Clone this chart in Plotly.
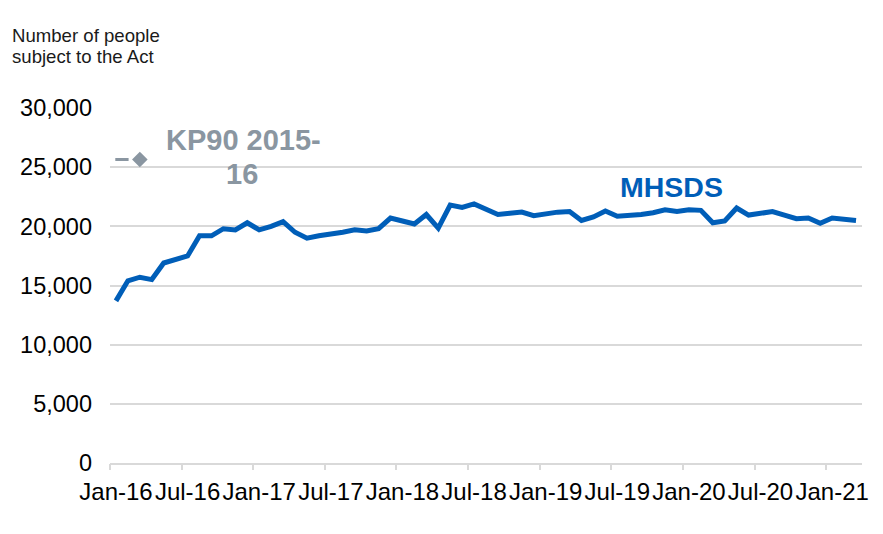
import plotly.graph_objects as go

# ---- data ----
months = ["Jan", "Feb", "Mar", "Apr", "May", "Jun", "Jul", "Aug", "Sep", "Oct", "Nov", "Dec"]
categories = [f"{m}-{y}" for y in range(16, 22) for m in months][:63]  # Jan-16 .. Mar-21

mhsds = [13700, 15400, 15700, 15500, 16900, 17200, 17500, 19200, 19200, 19800, 19700, 20300,
         19700, 20000, 20400, 19500, 19000, 19200, 19300, 19500, 19700, 19600, 19800, 20700,
         20450, 20200, 21000, 19850, 21800, 21600, 21900, 21500, 21000, 21100, 21200, 20900,
         21100, 21200, 21250, 20500, 20800, 21300, 20850, 20900, 21000, 21150, 21400, 21250,
         21400, 21350, 20300, 20450, 21550, 20950, 21100, 21250, 20950, 20650, 20700, 20250,
         20700, 20550, 20500]

kp90_category = "Mar-16"
kp90_value = [25650]

tick_labels = ["Jan-16", "Jul-16", "Jan-17", "Jul-17", "Jan-18", "Jul-18",
               "Jan-19", "Jul-19", "Jan-20", "Jul-20", "Jan-21"]
y_ticks = [0, 5000, 10000, 15000, 20000, 25000, 30000]

# ---- derived positions ----
idx = list(range(len(categories)))
kp90_idx = categories.index(kp90_category)
label_pos = [categories.index(t) for t in tick_labels]
boundary_pos = [p - 0.5 for p in label_pos]

BLUE = "#005EB8"
GREY = "#8A96A1"
FONT = "Liberation Sans, Arial, sans-serif"

fig = go.Figure()

fig.add_trace(go.Scatter(
    x=idx, y=mhsds, mode="lines", name="MHSDS",
    line=dict(color=BLUE, width=5), xaxis="x", yaxis="y"))

# short dash glyph preceding the KP90 point
fig.add_trace(go.Scatter(
    x=[kp90_idx - 1.5], y=kp90_value, mode="markers",
    marker=dict(symbol="line-ew", size=9.5, line=dict(color=GREY, width=3)),
    xaxis="x", yaxis="y", hoverinfo="skip"))

fig.add_trace(go.Scatter(
    x=[kp90_idx], y=kp90_value, mode="markers", name="KP90 2015-16",
    marker=dict(symbol="diamond", size=12, color=GREY),
    xaxis="x", yaxis="y"))

x_range = [-0.5, len(categories) - 0.5]

fig.update_layout(
    width=875, height=526,
    margin=dict(l=98, r=21, t=100, b=71),
    paper_bgcolor="white", plot_bgcolor="white",
    showlegend=False,
    font=dict(family=FONT, color="#000000"),
    xaxis=dict(
        range=x_range, tickmode="array", tickvals=label_pos, ticktext=tick_labels,
        ticks="", showgrid=False, zeroline=False, showline=True,
        linecolor="#D9D9D9", linewidth=2, tickangle=0,
        tickfont=dict(size=24, family=FONT, color="#000000"),
        ticklabelstandoff=6,
    ),
    xaxis2=dict(
        range=x_range, overlaying="x", anchor="y", side="bottom",
        tickmode="array", tickvals=boundary_pos, ticktext=[""] * len(boundary_pos),
        ticks="outside", ticklen=6, tickwidth=2, tickcolor="#D9D9D9",
        showgrid=False, zeroline=False, showline=False, showticklabels=False,
    ),
    yaxis=dict(
        range=[0, 30000], tickmode="array", tickvals=y_ticks,
        ticktext=[f"{v:,}" for v in y_ticks],
        showgrid=True, gridcolor="#D9D9D9", gridwidth=1.5,
        zeroline=False, showline=False, ticks="",
        tickfont=dict(size=23.5, family=FONT, color="#000000"),
        ticklabelstandoff=17,
    ),
)

# keep the overlay axis alive with an invisible trace
fig.add_trace(go.Scatter(x=x_range, y=[None, None], xaxis="x2", yaxis="y",
                         mode="lines", hoverinfo="skip", showlegend=False))

title_font = dict(size=18.6, family=FONT, color="#1A1A1A")
fig.add_annotation(
    text="Number of people", xref="paper", yref="paper",
    x=-0.1335, y=1.2056, xanchor="left", yanchor="middle",
    showarrow=False, font=title_font)
fig.add_annotation(
    text="subject to the Act", xref="paper", yref="paper",
    x=-0.1335, y=1.1448, xanchor="left", yanchor="middle",
    showarrow=False, font=title_font)

kp_font = dict(size=29, family=FONT, color=GREY)
fig.add_annotation(
    text="<b>KP90 2015-</b>", xref="paper", yref="paper",
    x=0.1772, y=0.9099, xanchor="center", yanchor="middle",
    showarrow=False, font=kp_font)
fig.add_annotation(
    text="<b>16</b>", xref="paper", yref="paper",
    x=0.1759, y=0.8141, xanchor="center", yanchor="middle",
    showarrow=False, font=kp_font)

fig.add_annotation(
    text="<b>MHSDS</b>", xref="paper", yref="paper",
    x=0.7467, y=0.7775, xanchor="center", yanchor="middle",
    showarrow=False, font=dict(size=28.5, family=FONT, color=BLUE))

fig.write_html("out.html")
